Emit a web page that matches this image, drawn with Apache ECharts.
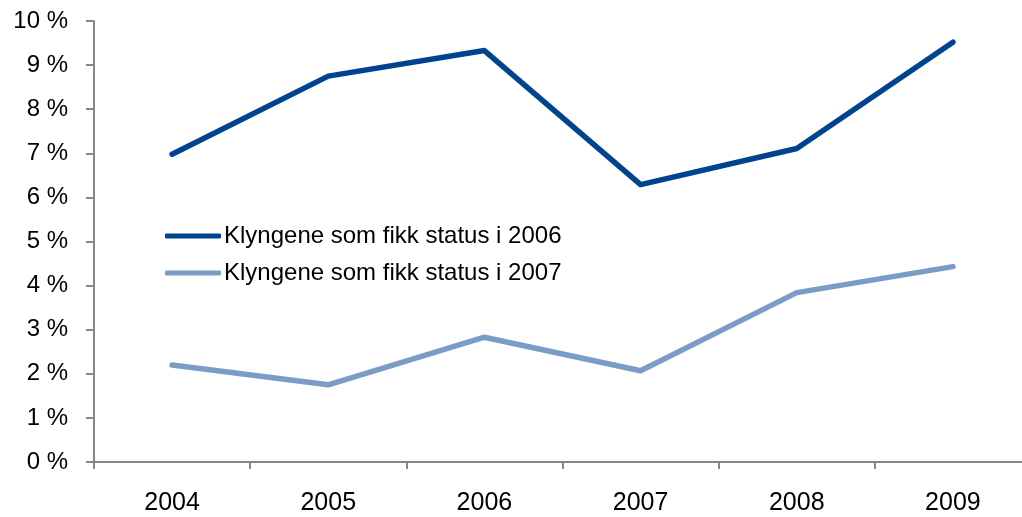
<!DOCTYPE html>
<html>
<head>
<meta charset="utf-8">
<script src="https://cdn.jsdelivr.net/npm/echarts@6/dist/echarts.min.js"></script>
<style>
    html, body { margin: 0; padding: 0; background: #ffffff; }
    #chart { width: 1022px; height: 517px; }
</style>
</head>
<body>
<div id="chart"></div>
<script>
// data
const years = ["2004", "2005", "2006", "2007", "2008", "2009"];
const status2006 = [6.98, 8.75, 9.33, 6.29, 7.11, 9.52];
const status2007 = [2.2, 1.75, 2.83, 2.07, 3.84, 4.43];
const seriesNames = ["Klyngene som fikk status i 2006", "Klyngene som fikk status i 2007"];

const color = ["#00448f", "#7c9cc8"];
const axisColor = "#878787";
const font = "Liberation Sans, Arial, sans-serif";

let chart = echarts.init(document.getElementById("chart"), null, { renderer: "canvas" });

let options = {
    animation: false,
    color: color,
    legend: {
        orient: "vertical",
        left: 160,
        top: 219,
        itemWidth: 56,
        itemHeight: 5,
        itemGap: 13,
        icon: "roundRect",
        textStyle: {
            fontFamily: font,
            fontSize: 24,
            color: "#000000",
            padding: [0, 0, 0, -2]
        },
        data: seriesNames
    },
    grid: {
        left: 94,
        top: 21,
        right: -9,
        bottom: 55,
        outerBoundsMode: "none",
        containLabel: false
    },
    xAxis: {
        type: "category",
        data: years,
        boundaryGap: true,
        axisLine: { lineStyle: { color: axisColor, width: 2 } },
        axisTick: { show: true, length: 7, lineStyle: { color: axisColor, width: 2 } },
        axisLabel: {
            margin: 29,
            fontFamily: font,
            fontSize: 25,
            color: "#000000"
        },
        splitLine: { show: false }
    },
    yAxis: {
        type: "value",
        min: 0,
        max: 10,
        interval: 1,
        axisLine: { show: true, lineStyle: { color: axisColor, width: 2 } },
        axisTick: { show: true, length: 8, lineStyle: { color: axisColor, width: 2 } },
        axisLabel: {
            margin: 26,
            fontFamily: font,
            fontSize: 24,
            color: "#000000",
            formatter: function(v) { return v + " %"; }
        },
        splitLine: { show: false }
    },
    series: [
        {
            name: seriesNames[0],
            type: "line",
            data: status2006,
            symbol: "none",
            lineStyle: { width: 5.5, cap: "round", join: "round" }
        },
        {
            name: seriesNames[1],
            type: "line",
            data: status2007,
            symbol: "none",
            lineStyle: { width: 5.5, cap: "round", join: "round" }
        }
    ]
};

chart.setOption(options);
</script>
</body>
</html>
